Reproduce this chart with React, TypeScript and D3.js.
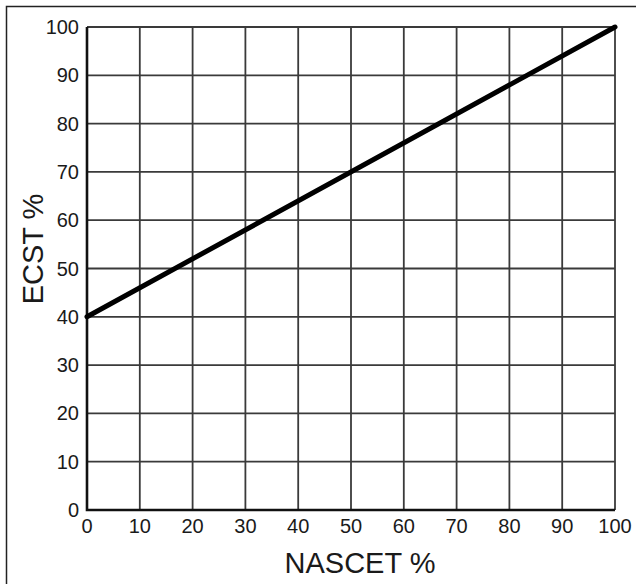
import React, { useRef, useEffect } from 'react';
import * as d3 from 'd3';

const nascetTicks = [0, 10, 20, 30, 40, 50, 60, 70, 80, 90, 100];
const ecstTicks = [0, 10, 20, 30, 40, 50, 60, 70, 80, 90, 100];
const lineNascet = [0, 100];
const lineEcst = [40, 100];

const App: React.FC = () => {
  const ref = useRef<SVGSVGElement>(null);

  useEffect(() => {
    const svg = d3.select(ref.current);
    svg.selectAll('*').remove();

    const width = 636;
    const height = 584;
    const margin = { top: 27, right: 21, bottom: 74, left: 87 };

    const x = d3.scaleLinear().domain([0, 100]).range([margin.left, width - margin.right]);
    const y = d3.scaleLinear().domain([0, 100]).range([height - margin.bottom, margin.top]);

    const font = 'Liberation Sans, Arial, sans-serif';

    svg.append('rect').attr('width', width).attr('height', height).attr('fill', '#fff');

    // frame around the figure (top and left edges visible)
    svg
      .append('path')
      .attr('d', `M6.5,${height} V6.5 H${width}`)
      .attr('fill', 'none')
      .attr('stroke', '#222')
      .attr('stroke-width', 1.5);

    const grid = svg.append('g').attr('stroke', '#3a3a3a').attr('stroke-width', 1.8);

    grid
      .selectAll('line.v')
      .data(nascetTicks)
      .join('line')
      .attr('class', 'v')
      .attr('x1', (d) => x(d))
      .attr('x2', (d) => x(d))
      .attr('y1', y(0))
      .attr('y2', y(100));

    grid
      .selectAll('line.h')
      .data(ecstTicks)
      .join('line')
      .attr('class', 'h')
      .attr('x1', x(0))
      .attr('x2', x(100))
      .attr('y1', (d) => y(d))
      .attr('y2', (d) => y(d));

    // axes, a bit heavier
    svg
      .append('path')
      .attr('d', `M${x(0)},${y(100)} V${y(0)} H${x(100)}`)
      .attr('fill', 'none')
      .attr('stroke', '#111')
      .attr('stroke-width', 2.6);

    const line = d3
      .line<number>()
      .x((d) => x(lineNascet[d]))
      .y((d) => y(lineEcst[d]));

    svg
      .append('path')
      .datum(d3.range(lineNascet.length))
      .attr('d', line)
      .attr('fill', 'none')
      .attr('stroke', '#000')
      .attr('stroke-width', 5)
      .attr('stroke-linecap', 'round');

    svg
      .append('g')
      .selectAll('text')
      .data(ecstTicks)
      .join('text')
      .attr('x', x(0) - 8)
      .attr('y', (d) => y(d))
      .attr('dy', '0.35em')
      .attr('text-anchor', 'end')
      .attr('font-family', font)
      .attr('font-size', 20)
      .attr('fill', '#1a1a1a')
      .text((d) => d);

    svg
      .append('g')
      .selectAll('text')
      .data(nascetTicks)
      .join('text')
      .attr('x', (d) => x(d))
      .attr('y', y(0) + 23)
      .attr('text-anchor', 'middle')
      .attr('font-family', font)
      .attr('font-size', 20)
      .attr('fill', '#1a1a1a')
      .text((d) => d);

    svg
      .append('text')
      .attr('x', 360)
      .attr('y', 573)
      .attr('text-anchor', 'middle')
      .attr('font-family', font)
      .attr('font-size', 29)
      .attr('fill', '#1a1a1a')
      .text('NASCET %');

    svg
      .append('text')
      .attr('transform', 'translate(43,249) rotate(-90)')
      .attr('text-anchor', 'middle')
      .attr('font-family', font)
      .attr('font-size', 29)
      .attr('fill', '#1a1a1a')
      .text('ECST %');
  }, []);

  return (
    <svg
      ref={ref}
      width={636}
      height={584}
      style={{ display: 'block', position: 'absolute', left: 0, top: 0 }}
    />
  );
};

export default App;
